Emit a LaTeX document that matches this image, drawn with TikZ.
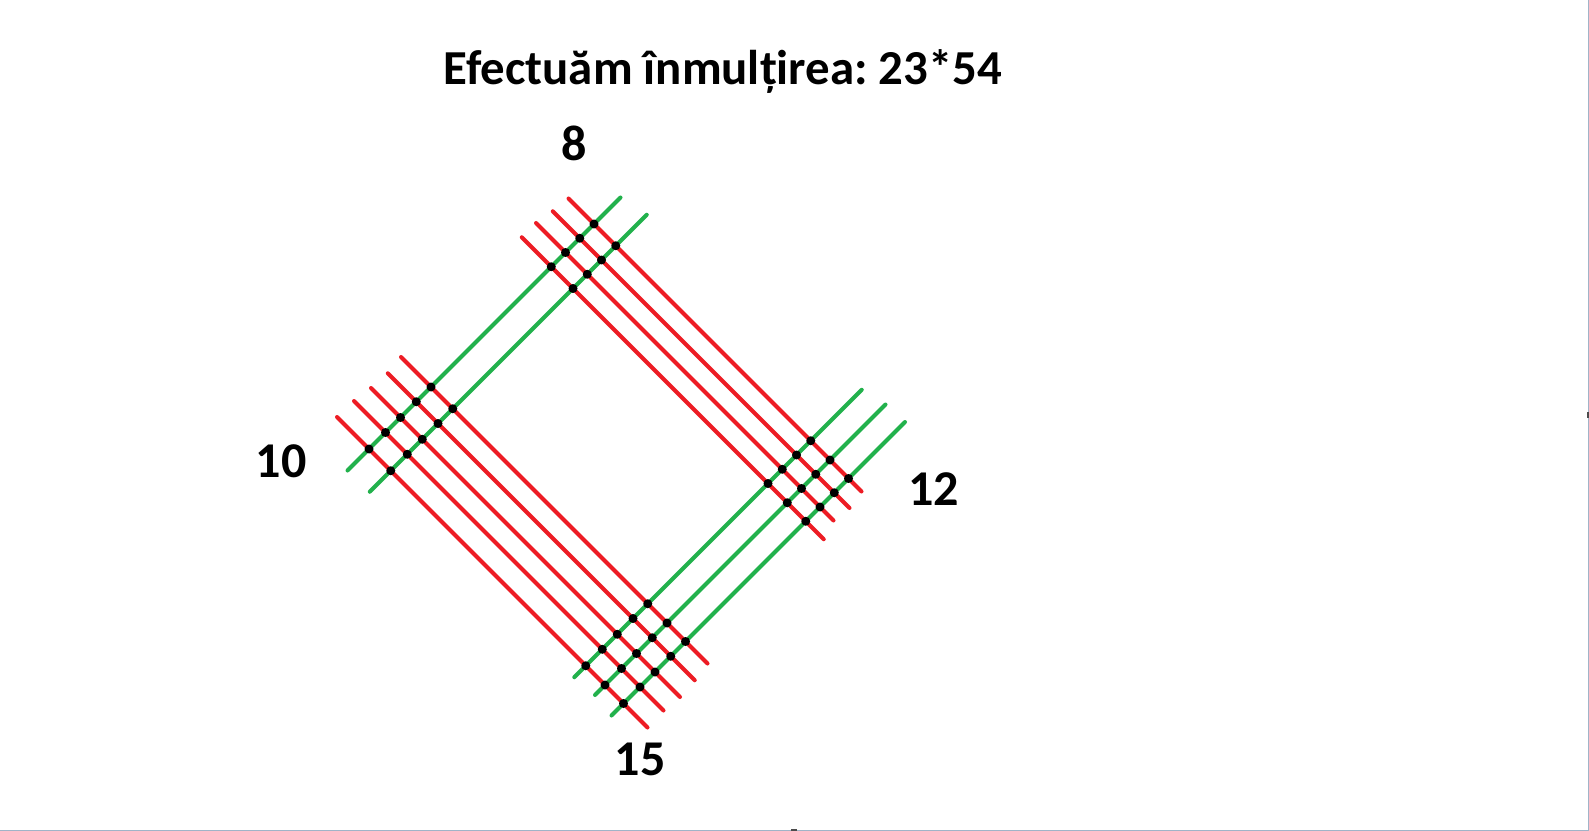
\documentclass[tikz,border=0pt]{standalone}
\usepackage{fontspec}
\setmainfont{Carlito}
\frenchspacing
\definecolor{paintred}{RGB}{237,28,36}
\definecolor{paintgreen}{RGB}{34,177,76}
\definecolor{frameblue}{RGB}{160,180,200}
\tikzset{
  redline/.style={draw=paintred,line width=0.08cm,line cap=round},
  greenline/.style={draw=paintgreen,line width=0.08cm,line cap=round},
  countlabel/.style={font=\fontsize{28.5}{30}\selectfont\bfseries,inner sep=0pt},
  titletext/.style={font=\fontsize{27.8}{30}\selectfont\bfseries,inner sep=0pt}
}
\begin{document}
\begin{tikzpicture}[x=0.02cm,y=-0.02cm]
\fill[white] (0,0) rectangle (1589,831);
\useasboundingbox (0,0) rectangle (1589,831);
% window edge
\draw[frameblue,line width=0.02cm] (0,830.5) -- (1589,830.5);
\draw[frameblue,line width=0.02cm] (1588.5,0) -- (1588.5,831);
\fill[black!70] (1587,412) rectangle (1589,418);
\fill[black!70] (791,829) rectangle (797,831);
\node[titletext,anchor=base] (title) at (723,85) {Efectuăm înmulțirea: 23*54};
% red lines (5 and 4)
\foreach \d/\sa/\sb in {370/767/1353, 341.5/764/1357.5, 313/759/1354, 284.5/759/1363,
                        44/758/1371, 14.5/761/1375, -17/759/1377, -47/755/1374, -80/754/1375}
  \draw[redline] ({(\sa+\d)/2},{(\sa-\d)/2}) -- ({(\sb+\d)/2},{(\sb-\d)/2});
% green lines (2 and 3)
\foreach \s/\da/\db in {818/-123/423, 861.5/-122/432,
                        1251.5/-103/472, 1290/-100/481, 1327/-104/483}
  \draw[greenline] ({(\s+\da)/2},{(\s-\da)/2}) -- ({(\s+\db)/2},{(\s-\db)/2});
% crossing points
\foreach \s in {818,861.5,1251.5,1290,1327}
  \foreach \d in {370,341.5,313,284.5,44,14.5,-17,-47,-80}
    \fill[black] ({(\s+\d)/2},{(\s-\d)/2}) circle[radius=0.09cm];
% counts
\node[countlabel] (topcount) at (574.6,143) {8};
\node[countlabel] (leftcount) at (281.3,461) {10};
\node[countlabel] (rightcount) at (933.8,489.2) {12};
\node[countlabel] (bottomcount) at (640,759) {15};
\end{tikzpicture}
\end{document}
